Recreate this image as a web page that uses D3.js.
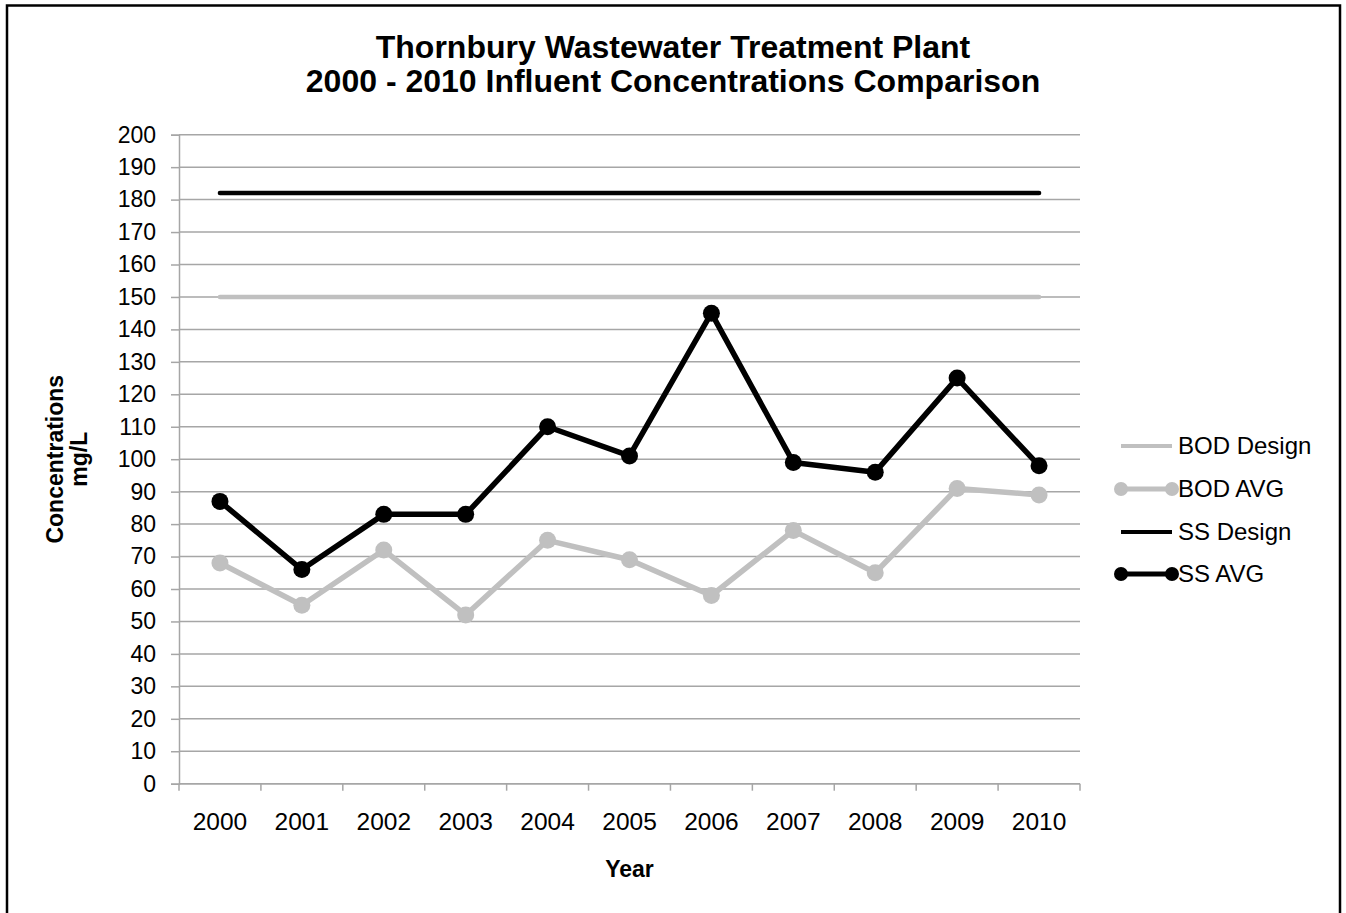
<html>
<head>
<meta charset="utf-8">
<script src="https://cdn.jsdelivr.net/npm/d3@7"></script>
<style>
body { margin: 0; background: #fff; }
text { font-family: "Liberation Sans", Arial, sans-serif; fill: #000; }
</style>
</head>
<body>
<svg id="chart" width="1346" height="913"></svg>
<script>
// chart data
var years = ["2000","2001","2002","2003","2004","2005","2006","2007","2008","2009","2010"];
var bodDesign = [150,150,150,150,150,150,150,150,150,150,150];
var bodAvg = [68,55,72,52,75,69,58,78,65,91,89];
var ssDesign = [182,182,182,182,182,182,182,182,182,182,182];
var ssAvg = [87,66,83,83,110,101,145,99,96,125,98];
var yTicks = d3.range(0, 201, 10);
var titleLines = ["Thornbury Wastewater Treatment Plant", "2000 - 2010 Influent Concentrations Comparison"];

function draw() {
    var svg = d3.select("#chart");
    var gridColor = "#a6a6a6";
    var bodColor = "#c0c0c0";
    var ssColor = "#000000";

    var plotLeft = 179, plotRight = 1080, plotTop = 134.7, plotBottom = 783.7;

    var x = d3.scaleBand().domain(years).range([plotLeft, plotRight]).paddingInner(0).paddingOuter(0);
    var y = d3.scaleLinear().domain([0, 200]).range([plotBottom, plotTop]);
    var cx = function(d, i) { return x(years[i]) + x.bandwidth() / 2; };

    // outer frame
    svg.append("rect")
        .attr("x", 7).attr("y", 5.5)
        .attr("width", 1333).attr("height", 930)
        .attr("fill", "none").attr("stroke", "#000").attr("stroke-width", 2.5);

    // title
    svg.selectAll("text.title")
        .data(titleLines)
        .enter().append("text")
        .attr("class", "title")
        .attr("x", 673)
        .attr("y", function(d, i) { return 57.5 + i * 34; })
        .attr("text-anchor", "middle")
        .style("font-size", "32px")
        .style("font-weight", "bold")
        .text(function(d) { return d; });

    // gridlines
    svg.append("g").selectAll("line")
        .data(yTicks)
        .enter().append("line")
        .attr("x1", plotLeft).attr("x2", plotRight)
        .attr("y1", function(d) { return y(d); })
        .attr("y2", function(d) { return y(d); })
        .attr("stroke", gridColor).attr("stroke-width", 1.5);

    // y axis
    var yAxis = svg.append("g")
        .attr("transform", "translate(" + plotLeft + ",0)")
        .call(d3.axisLeft(y).tickValues(yTicks).tickSize(8).tickPadding(15));
    yAxis.select(".domain").attr("stroke", gridColor).attr("stroke-width", 1.5);
    yAxis.selectAll(".tick line").attr("stroke", gridColor).attr("stroke-width", 1.5);
    yAxis.selectAll(".tick text")
        .style("font-size", "23px")
        .style("font-family", "'Liberation Sans', Arial, sans-serif")
        .attr("fill", "#000");

    // x axis: ticks at category boundaries, labels in the middle
    var xAxis = svg.append("g")
        .attr("transform", "translate(0," + plotBottom + ")")
        .call(d3.axisBottom(x).tickSize(0).tickPadding(0));
    xAxis.select(".domain").remove();
    xAxis.selectAll(".tick text")
        .attr("y", 46)
        .attr("dy", 0)
        .style("font-size", "24.5px")
        .style("font-family", "'Liberation Sans', Arial, sans-serif")
        .attr("fill", "#000");
    svg.append("line")
        .attr("x1", plotLeft).attr("x2", plotRight)
        .attr("y1", plotBottom).attr("y2", plotBottom)
        .attr("stroke", gridColor).attr("stroke-width", 1.5);
    svg.append("g").selectAll("line")
        .data(years.concat(["end"]))
        .enter().append("line")
        .attr("x1", function(d, i) { return plotLeft + i * x.bandwidth(); })
        .attr("x2", function(d, i) { return plotLeft + i * x.bandwidth(); })
        .attr("y1", plotBottom).attr("y2", plotBottom + 7)
        .attr("stroke", gridColor).attr("stroke-width", 1.5);

    // axis titles
    svg.append("text")
        .attr("x", (plotLeft + plotRight) / 2)
        .attr("y", 876.5)
        .attr("text-anchor", "middle")
        .style("font-size", "23px")
        .style("font-weight", "bold")
        .text("Year");

    var yTitle = svg.append("text")
        .attr("transform", "translate(63," + ((plotTop + plotBottom) / 2) + ") rotate(-90)")
        .attr("text-anchor", "middle")
        .style("font-size", "23px")
        .style("font-weight", "bold");
    yTitle.append("tspan").attr("x", 0).attr("y", 0).text("Concentrations");
    yTitle.append("tspan").attr("x", 0).attr("y", 24).text("mg/L");

    // series
    var line = d3.line()
        .x(function(d, i) { return cx(d, i); })
        .y(function(d) { return y(d); });

    svg.append("path").datum(bodDesign)
        .attr("d", line).attr("fill", "none")
        .attr("stroke", bodColor).attr("stroke-width", 4.5).attr("stroke-linecap", "round");

    svg.append("path").datum(ssDesign)
        .attr("d", line).attr("fill", "none")
        .attr("stroke", ssColor).attr("stroke-width", 4.5).attr("stroke-linecap", "round");

    svg.append("path").datum(bodAvg)
        .attr("d", line).attr("fill", "none")
        .attr("stroke", bodColor).attr("stroke-width", 5.5).attr("stroke-linejoin", "round");
    svg.append("g").selectAll("circle")
        .data(bodAvg)
        .enter().append("circle")
        .attr("cx", cx).attr("cy", function(d) { return y(d); })
        .attr("r", 8.5).attr("fill", bodColor);

    svg.append("path").datum(ssAvg)
        .attr("d", line).attr("fill", "none")
        .attr("stroke", ssColor).attr("stroke-width", 5.5).attr("stroke-linejoin", "round");
    svg.append("g").selectAll("circle")
        .data(ssAvg)
        .enter().append("circle")
        .attr("cx", cx).attr("cy", function(d) { return y(d); })
        .attr("r", 8.5).attr("fill", ssColor);

    // legend
    var legend = [
        { name: "BOD Design", color: bodColor, marker: false, y: 446 },
        { name: "BOD AVG", color: bodColor, marker: true, y: 489 },
        { name: "SS Design", color: ssColor, marker: false, y: 532 },
        { name: "SS AVG", color: ssColor, marker: true, y: 574 }
    ];
    var lg = svg.append("g").selectAll("g")
        .data(legend)
        .enter().append("g")
        .attr("transform", function(d) { return "translate(0," + d.y + ")"; });
    lg.append("line")
        .attr("x1", 1121).attr("x2", 1172)
        .attr("stroke", function(d) { return d.color; })
        .attr("stroke-width", function(d) { return d.marker ? 5 : 4; });
    lg.filter(function(d) { return d.marker; }).selectAll("circle")
        .data(function(d) { return [d, d]; })
        .enter().append("circle")
        .attr("cx", function(d, i) { return i == 0 ? 1121 : 1172; })
        .attr("r", 7)
        .attr("fill", function(d) { return d.color; });
    lg.append("text")
        .attr("x", 1178)
        .attr("dy", "0.35em")
        .style("font-size", "24px")
        .text(function(d) { return d.name; });
}

draw();
</script>
</body>
</html>
